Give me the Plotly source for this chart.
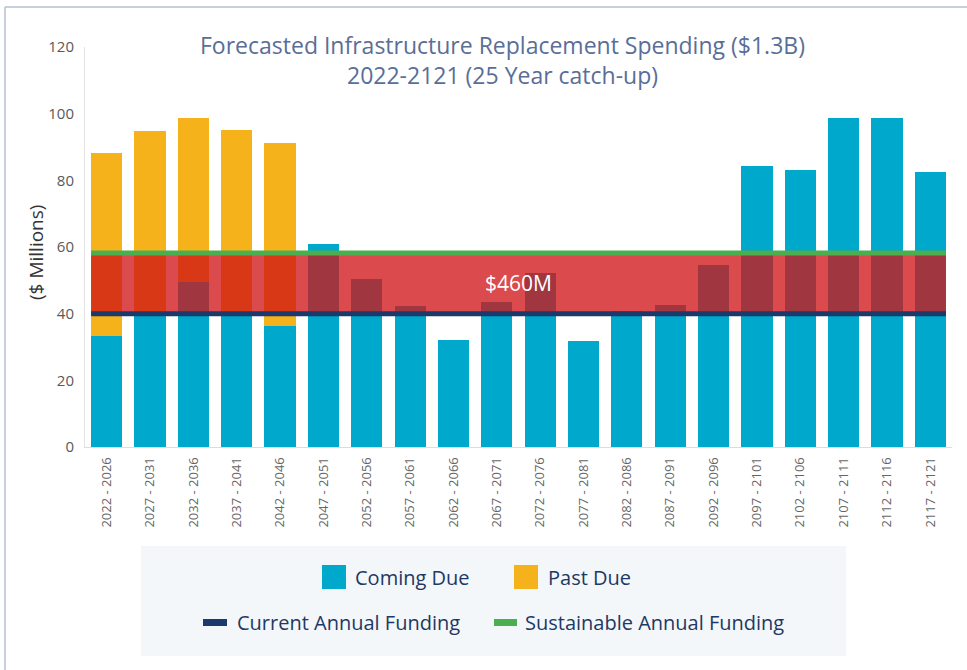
import plotly.graph_objects as go

# ---------------- data ----------------
periods = ["2022 - 2026", "2027 - 2031", "2032 - 2036", "2037 - 2041", "2042 - 2046",
           "2047 - 2051", "2052 - 2056", "2057 - 2061", "2062 - 2066", "2067 - 2071",
           "2072 - 2076", "2077 - 2081", "2082 - 2086", "2087 - 2091", "2092 - 2096",
           "2097 - 2101", "2102 - 2106", "2107 - 2111", "2112 - 2116", "2117 - 2121"]
coming_due = [33.4, 40.0, 49.4, 40.0, 36.4, 60.8, 50.4, 42.3, 32.1, 43.4,
              52.3, 31.8, 40.9, 42.6, 54.5, 84.4, 83.1, 98.8, 98.8, 82.4]
past_due = [54.9, 54.9, 49.3, 55.1, 54.9, 0, 0, 0, 0, 0,
            0, 0, 0, 0, 0, 0, 0, 0, 0, 0]
current_funding = 40.0
sustainable_funding = 58.2
gap_label = "$460M"
series_names = ["Coming Due", "Past Due", "Current Annual Funding", "Sustainable Annual Funding"]
title_lines = ["Forecasted Infrastructure Replacement Spending ($1.3B)",
               "2022-2121 (25 Year catch-up)"]
y_title = "($ Millions)"

# ---------------- style ----------------
BLUE = "#00a8cc"
ORANGE = "#f6b21a"
NAVY = "#1b3a6b"
GREEN = "#4caf4f"
BAND = "rgba(208,19,22,0.77)"
FONT = "Open Sans"
W, H = 967, 670
ML, MR, MT, MB = 85, 15, 47, 223
PW, PH = W - ML - MR, H - MT - MB


def px(x):
    return (x - ML) / PW


def py(y):
    return (H - MB - y) / PH


BARGAP = 0.28
half = (1 - BARGAP) / 2

fig = go.Figure()
fig.add_trace(go.Bar(x=periods, y=coming_due, name=series_names[0],
                     marker=dict(color=BLUE, line=dict(width=0)), showlegend=False))
fig.add_trace(go.Bar(x=periods, y=past_due, name=series_names[1],
                     marker=dict(color=ORANGE, line=dict(width=0)), showlegend=False))

n = len(periods)
x0, x1 = -half, n - 1 + half
shapes = [
    dict(type="rect", xref="x", yref="y", x0=x0, x1=x1, y0=current_funding, y1=sustainable_funding,
         fillcolor=BAND, line=dict(width=0), layer="above"),
    dict(type="line", xref="x", yref="y", x0=x0, x1=x1, y0=current_funding, y1=current_funding,
         line=dict(color=NAVY, width=5), layer="above"),
    dict(type="line", xref="x", yref="y", x0=x0, x1=x1, y0=sustainable_funding, y1=sustainable_funding,
         line=dict(color=GREEN, width=5), layer="above"),
    # outer frame (top and left edges)
    dict(type="line", xref="paper", yref="paper", x0=px(5), x1=px(967), y0=py(7), y1=py(7),
         line=dict(color="#b4bfd4", width=1.5)),
    dict(type="line", xref="paper", yref="paper", x0=px(5), x1=px(5), y0=py(7), y1=py(670),
         line=dict(color="#b4bfd4", width=1.5)),
    # legend panel
    dict(type="rect", xref="paper", yref="paper", x0=px(141), x1=px(846), y0=py(546), y1=py(656),
         fillcolor="#f3f7f9", line=dict(width=0), layer="below"),
    dict(type="rect", xref="paper", yref="paper", x0=px(322), x1=px(346), y0=py(565), y1=py(589),
         fillcolor=BLUE, line=dict(width=0)),
    dict(type="rect", xref="paper", yref="paper", x0=px(514), x1=px(538), y0=py(565), y1=py(589),
         fillcolor=ORANGE, line=dict(width=0)),
    dict(type="rect", xref="paper", yref="paper", x0=px(203), x1=px(227), y0=py(619), y1=py(626),
         fillcolor=NAVY, line=dict(width=0)),
    dict(type="rect", xref="paper", yref="paper", x0=px(494), x1=px(517), y0=py(619), y1=py(626),
         fillcolor=GREEN, line=dict(width=0)),
]

LEG_FONT = dict(family=FONT, size=20, color="#1f3864")
TITLE_FONT = dict(family=FONT, size=23, color="#5a6e97")
annotations = [
    dict(text=title_lines[0], xref="paper", yref="paper", x=px(502), y=py(45),
         xanchor="center", yanchor="middle", showarrow=False, font=TITLE_FONT),
    dict(text=title_lines[1], xref="paper", yref="paper", x=px(502), y=py(75),
         xanchor="center", yanchor="middle", showarrow=False, font=TITLE_FONT),
    dict(text=y_title, xref="paper", yref="paper", x=px(36), y=py(253), textangle=-90,
         xanchor="center", yanchor="middle", showarrow=False,
         font=dict(family=FONT, size=19, color="#333333")),
    dict(text=gap_label, xref="x", yref="y", x=(n - 1) / 2, y=(current_funding + sustainable_funding) / 2 + 0.2,
         xanchor="center", yanchor="middle", showarrow=False,
         font=dict(family=FONT, size=21, color="white")),
    dict(text=series_names[0], xref="paper", yref="paper", x=px(353), y=py(577),
         xanchor="left", yanchor="middle", showarrow=False, font=LEG_FONT),
    dict(text=series_names[1], xref="paper", yref="paper", x=px(546), y=py(577),
         xanchor="left", yanchor="middle", showarrow=False, font=LEG_FONT),
    dict(text=series_names[2], xref="paper", yref="paper", x=px(235), y=py(622),
         xanchor="left", yanchor="middle", showarrow=False, font=LEG_FONT),
    dict(text=series_names[3], xref="paper", yref="paper", x=px(523), y=py(622),
         xanchor="left", yanchor="middle", showarrow=False, font=LEG_FONT),
]

fig.update_layout(
    width=W, height=H, autosize=False,
    margin=dict(l=ML, r=MR, t=MT, b=MB, pad=0),
    barmode="stack", bargap=BARGAP,
    plot_bgcolor="white", paper_bgcolor="white",
    showlegend=False,
    shapes=shapes, annotations=annotations,
    font=dict(family=FONT),
)
fig.update_xaxes(type="category", range=[-0.5, n - 0.5], tickangle=-90,
                 tickfont=dict(family=FONT, size=13, color="#666666"),
                 showline=True, linecolor="#dcdcdc", linewidth=1, ticks="", showgrid=False,
                 ticklabelstandoff=4)
fig.update_yaxes(range=[0, 120], dtick=20, showgrid=False, zeroline=False,
                 showline=True, linecolor="#e3e3e3", linewidth=1, ticks="",
                 tickfont=dict(family=FONT, size=15, color="#595959"),
                 ticklabelstandoff=7)

fig.write_html("out.html", config={"displayModeBar": False},
               post_script="document.body.style.margin='0';")
